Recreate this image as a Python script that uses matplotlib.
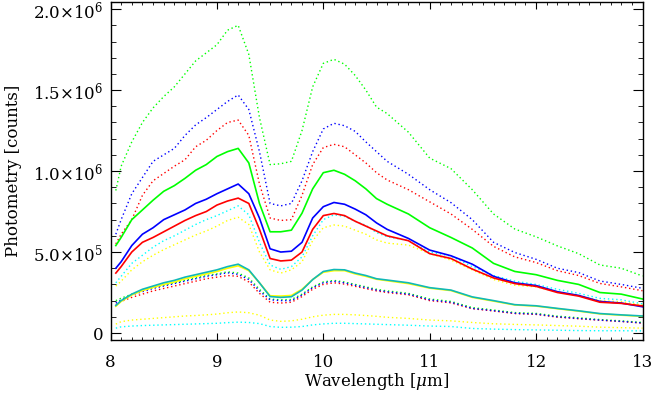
import numpy as np
import matplotlib
matplotlib.use("Agg")
import matplotlib.pyplot as plt
from matplotlib.ticker import FixedLocator, MultipleLocator

# wavelength grid [um]
wl = [8.05, 8.1, 8.2, 8.3, 8.4, 8.5, 8.6, 8.7, 8.8, 8.9, 9.0, 9.1, 9.2, 9.3, 9.4, 9.5, 9.6,
      9.7, 9.8, 9.9, 10.0, 10.1, 10.2, 10.3, 10.4, 10.5, 10.6,
      10.8, 11.0, 11.2, 11.4, 11.6, 11.8, 12.0, 12.2, 12.4, 12.6, 12.8, 13.0]

# photometry in units of 1e6 counts
green_dot_hi = [0.88, 1.03, 1.18, 1.30, 1.39, 1.46, 1.52, 1.60, 1.68, 1.73, 1.78, 1.87, 1.90, 1.72, 1.33, 1.04, 1.045,
                1.06, 1.25, 1.52, 1.665, 1.69, 1.66, 1.59, 1.50, 1.395, 1.355,
                1.24, 1.08, 1.015, 0.885, 0.735, 0.642, 0.594, 0.538, 0.49, 0.42, 0.40, 0.352]
blue_dot_hi = [0.61, 0.70, 0.86, 0.96, 1.06, 1.10, 1.14, 1.22, 1.285, 1.33, 1.38, 1.43, 1.47, 1.38, 1.12, 0.80, 0.785,
               0.80, 0.94, 1.12, 1.26, 1.295, 1.28, 1.245, 1.18, 1.12, 1.06,
               0.98, 0.885, 0.805, 0.70, 0.56, 0.497, 0.455, 0.40, 0.373, 0.321, 0.30, 0.276]
red_dot_hi = [0.55, 0.61, 0.70, 0.85, 0.94, 0.985, 1.03, 1.07, 1.15, 1.19, 1.25, 1.30, 1.315, 1.22, 0.92, 0.71, 0.695,
              0.70, 0.85, 1.04, 1.145, 1.165, 1.15, 1.10, 1.05, 0.99, 0.945,
              0.885, 0.81, 0.735, 0.64, 0.535, 0.47, 0.435, 0.385, 0.355, 0.306, 0.285, 0.261]
green_sol = [0.54, 0.59, 0.70, 0.76, 0.82, 0.875, 0.91, 0.955, 1.005, 1.04, 1.09, 1.12, 1.14, 1.05, 0.80, 0.625, 0.625,
             0.635, 0.74, 0.89, 0.99, 1.005, 0.98, 0.94, 0.89, 0.83, 0.795,
             0.735, 0.65, 0.59, 0.525, 0.43, 0.38, 0.36, 0.325, 0.30, 0.25, 0.24, 0.21]
blue_sol = [0.40, 0.44, 0.54, 0.61, 0.65, 0.70, 0.73, 0.76, 0.80, 0.826, 0.86, 0.89, 0.92, 0.86, 0.71, 0.52, 0.50,
            0.505, 0.56, 0.71, 0.78, 0.806, 0.795, 0.765, 0.73, 0.68, 0.64,
            0.584, 0.512, 0.477, 0.425, 0.35, 0.31, 0.293, 0.255, 0.232, 0.195, 0.185, 0.162]
red_sol = [0.37, 0.41, 0.50, 0.56, 0.59, 0.625, 0.66, 0.695, 0.725, 0.75, 0.79, 0.815, 0.833, 0.80, 0.64, 0.46, 0.445,
           0.45, 0.50, 0.64, 0.725, 0.738, 0.725, 0.69, 0.66, 0.63, 0.60,
           0.57, 0.49, 0.46, 0.395, 0.34, 0.305, 0.288, 0.25, 0.228, 0.19, 0.183, 0.167]
cyan_dot_hi = [0.31, 0.35, 0.43, 0.48, 0.53, 0.57, 0.60, 0.635, 0.67, 0.70, 0.725, 0.755, 0.785, 0.73, 0.56, 0.42, 0.393,
               0.41, 0.47, 0.60, 0.70, 0.73, 0.72, 0.69, 0.665, 0.62, 0.595,
               0.57, 0.50, 0.475, 0.41, 0.355, 0.32, 0.30, 0.27, 0.245, 0.214, 0.205, 0.18]
yellow_dot_hi = [0.29, 0.32, 0.39, 0.44, 0.48, 0.515, 0.545, 0.575, 0.605, 0.63, 0.66, 0.695, 0.715, 0.67, 0.50, 0.39, 0.37,
                 0.39, 0.44, 0.57, 0.65, 0.667, 0.66, 0.635, 0.61, 0.575, 0.555,
                 0.543, 0.49, 0.45, 0.39, 0.33, 0.295, 0.285, 0.255, 0.232, 0.20, 0.193, 0.173]
teal_sol = [0.17, 0.20, 0.24, 0.27, 0.29, 0.31, 0.325, 0.345, 0.36, 0.375, 0.39, 0.41, 0.425, 0.39, 0.31, 0.225, 0.22,
            0.224, 0.265, 0.33, 0.38, 0.392, 0.39, 0.37, 0.355, 0.335, 0.327,
            0.31, 0.28, 0.265, 0.223, 0.20, 0.175, 0.168, 0.152, 0.137, 0.12, 0.112, 0.105]
yellow_sol = [0.165, 0.195, 0.235, 0.262, 0.282, 0.30, 0.315, 0.335, 0.35, 0.365, 0.38, 0.40, 0.415, 0.385, 0.31, 0.23, 0.228,
              0.232, 0.27, 0.33, 0.375, 0.385, 0.385, 0.365, 0.35, 0.332, 0.323,
              0.305, 0.277, 0.262, 0.22, 0.197, 0.173, 0.166, 0.15, 0.135, 0.118, 0.11, 0.103]
green_dot_lo = [0.20, 0.215, 0.24, 0.262, 0.28, 0.295, 0.31, 0.325, 0.34, 0.355, 0.365, 0.378, 0.37, 0.34, 0.27, 0.21, 0.205,
                0.207, 0.24, 0.285, 0.315, 0.325, 0.315, 0.30, 0.285, 0.27, 0.26,
                0.245, 0.21, 0.195, 0.157, 0.142, 0.126, 0.121, 0.104, 0.094, 0.083, 0.075, 0.065]
blue_dot_lo = [0.185, 0.205, 0.235, 0.255, 0.275, 0.29, 0.305, 0.32, 0.335, 0.35, 0.36, 0.372, 0.362, 0.33, 0.26, 0.205, 0.20,
               0.20, 0.235, 0.28, 0.31, 0.32, 0.31, 0.295, 0.28, 0.265, 0.255,
               0.24, 0.205, 0.19, 0.152, 0.138, 0.122, 0.117, 0.10, 0.09, 0.08, 0.072, 0.062]
red_dot_lo = [0.175, 0.195, 0.22, 0.24, 0.26, 0.275, 0.29, 0.305, 0.32, 0.335, 0.345, 0.355, 0.35, 0.315, 0.245, 0.19, 0.185,
              0.19, 0.225, 0.27, 0.30, 0.31, 0.302, 0.288, 0.274, 0.26, 0.25,
              0.236, 0.20, 0.186, 0.15, 0.136, 0.12, 0.115, 0.098, 0.088, 0.079, 0.071, 0.061]
yellow_dot_lo = [0.055, 0.07, 0.08, 0.085, 0.09, 0.095, 0.10, 0.105, 0.108, 0.112, 0.117, 0.125, 0.13, 0.125, 0.11, 0.08, 0.072,
                 0.075, 0.085, 0.10, 0.11, 0.115, 0.115, 0.112, 0.108, 0.103, 0.097,
                 0.09, 0.08, 0.075, 0.065, 0.057, 0.053, 0.05, 0.046, 0.042, 0.036, 0.033, 0.03]
cyan_dot_lo = [0.03, 0.038, 0.043, 0.046, 0.048, 0.05, 0.052, 0.054, 0.056, 0.058, 0.06, 0.064, 0.067, 0.065, 0.058, 0.04, 0.035,
               0.036, 0.04, 0.05, 0.056, 0.06, 0.06, 0.058, 0.056, 0.054, 0.052,
               0.048, 0.043, 0.04, 0.028, 0.024, 0.021, 0.019, 0.017, 0.015, 0.014, 0.014, 0.013]

ytick_vals = [0, 5e5, 1e6, 1.5e6, 2e6]
ytick_labels = ['0', r'5.0$\times$10$^5$', r'1.0$\times$10$^6$', r'1.5$\times$10$^6$', r'2.0$\times$10$^6$']

plt.rcParams['font.family'] = 'DejaVu Serif'
plt.rcParams['mathtext.fontset'] = 'dejavuserif'

fig = plt.figure(figsize=(6.52, 3.95), dpi=100)
ax = fig.add_axes([110.5/652, 55/395, 532/652, 338/395])

x = np.array(wl)
dot = (0, (1, 2))
dotted = [(green_dot_hi, '#00ff00'), (blue_dot_hi, '#0000ff'), (red_dot_hi, '#ff0000'),
          (cyan_dot_hi, '#00ffff'), (yellow_dot_hi, '#ffff00'),
          (red_dot_lo, '#ff0000'), (green_dot_lo, '#00ff00'), (blue_dot_lo, '#0000ff'),
          (yellow_dot_lo, '#ffff00'), (cyan_dot_lo, '#00ffff')]
for ys, c in dotted:
    ax.plot(x, np.array(ys) * 1e6, color=c, lw=1.0, ls=dot)

solid = [(green_sol, '#00ff00'), (blue_sol, '#0000ff'), (red_sol, '#ff0000'),
         (yellow_sol, '#ffff00'), (teal_sol, '#10b8b8')]
for ys, c in solid:
    ax.plot(x, np.array(ys) * 1e6, color=c, lw=1.2)

ax.set_xlim(8, 13)
ax.set_ylim(-0.0432e6, 2.044e6)
ax.xaxis.set_major_locator(MultipleLocator(1))
ax.xaxis.set_minor_locator(MultipleLocator(0.1))
ax.yaxis.set_major_locator(FixedLocator(ytick_vals))
ax.yaxis.set_minor_locator(MultipleLocator(1e5))
ax.set_yticklabels(ytick_labels)

ax.tick_params(which='both', direction='in', top=True, right=True, labelsize=12, color='black')
ax.tick_params(axis='x', which='major', length=5, pad=10)
ax.tick_params(axis='x', which='minor', length=2.5)
ax.tick_params(axis='y', which='major', length=7.5, pad=5)
ax.tick_params(axis='y', which='minor', length=3.8)
for s in ax.spines.values():
    s.set_linewidth(1.0)

ax.set_xlabel(r'Wavelength [$\mu$m]', fontsize=12, labelpad=0)
ax.set_ylabel('Photometry [counts]', fontsize=12, labelpad=8)

fig.savefig('out.png', dpi=100)
